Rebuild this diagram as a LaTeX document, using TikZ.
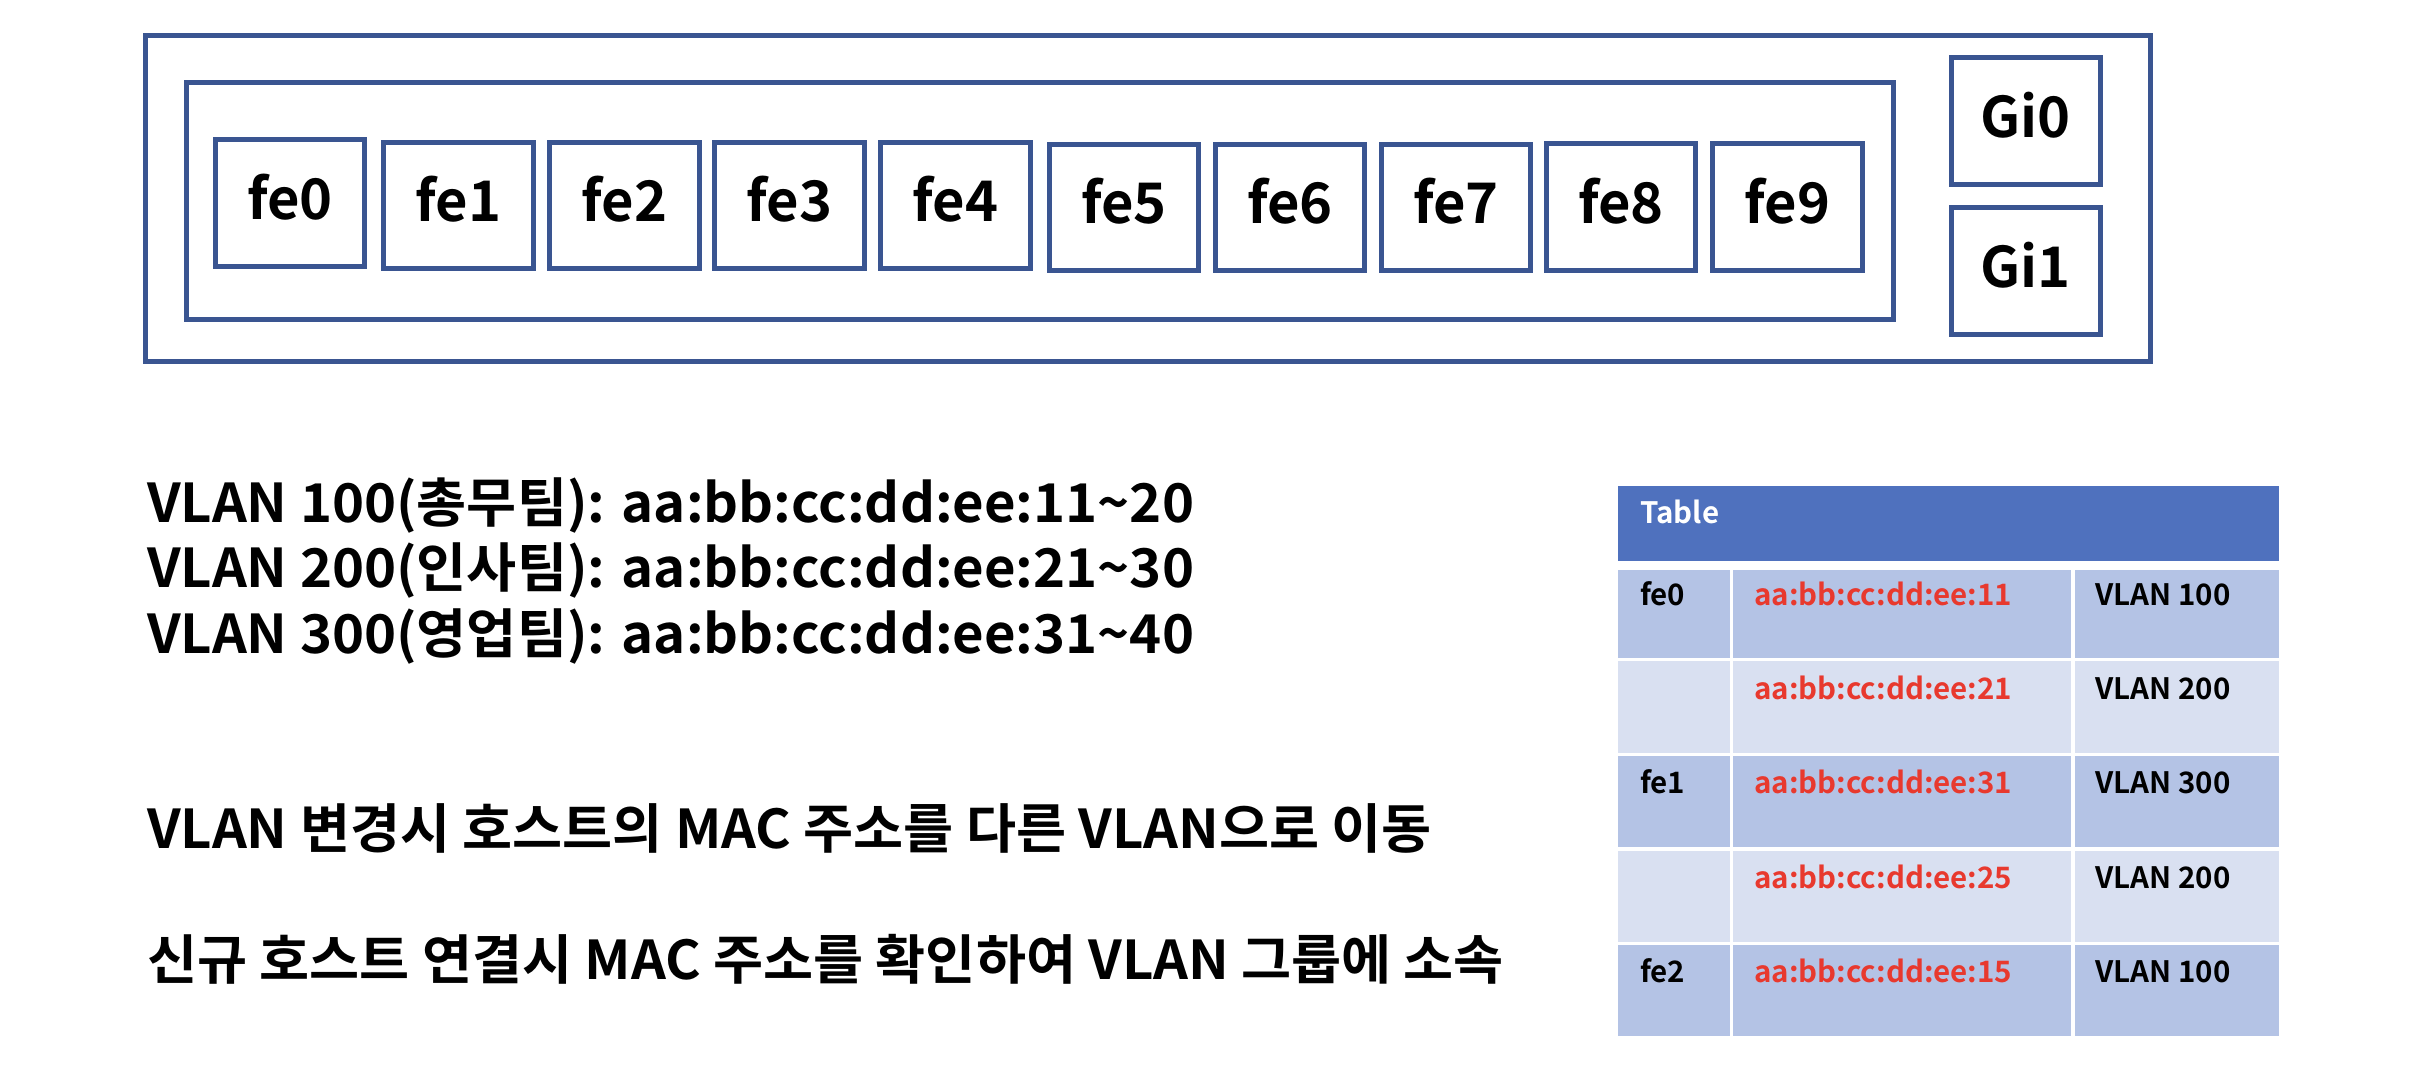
\documentclass[tikz,border=0pt]{standalone}
\usepackage{fontspec}
\setmainfont{Noto Sans CJK KR}[UprightFont=* Bold, BoldFont=* Bold]
\newfontfamily\widefont{Noto Sans CJK KR}[UprightFont=* Bold, BoldFont=* Bold, FakeStretch=1.017]
\definecolor{boxblue}{HTML}{3A5591}
\definecolor{hdrblue}{HTML}{4F71BE}
\definecolor{rowdark}{HTML}{B4C3E5}
\definecolor{rowlight}{HTML}{D9E0F1}
\definecolor{macred}{HTML}{E8392E}
\begin{document}
\begin{tikzpicture}[x=1pt,y=-1pt,
  frame/.style={draw=boxblue, line width=5pt},
  port/.style={draw=boxblue, line width=5pt, inner sep=0pt, minimum width=149.5pt, minimum height=126.5pt,
    font=\fontsize{56}{60}\selectfont, text height=42pt, text depth=9pt},
  gport/.style={port, minimum width=148.5pt, minimum height=127.5pt},
  big/.style={anchor=base west, inner sep=0pt, font=\widefont\fontsize{53.5}{60}\selectfont},
  celltxt/.style={anchor=base west, inner sep=0pt, font=\fontsize{29.5}{32}\selectfont},
]
\useasboundingbox (0,0) rectangle (2426,1078);
% switch frames
\draw[frame] (145,36) rectangle (2150,361);
\draw[frame] (186,83) rectangle (1893,319);
\node[port] (fe0) at (290,203) {fe0};
\node[port] (fe1) at (458.5,205.5) {fe1};
\node[port] (fe2) at (624.5,205.5) {fe2};
\node[port] (fe3) at (789.5,205.5) {fe3};
\node[port] (fe4) at (955.5,205.5) {fe4};
\node[port] (fe5) at (1124,207.5) {fe5};
\node[port] (fe6) at (1290,207.5) {fe6};
\node[port] (fe7) at (1456,207.5) {fe7};
\node[port] (fe8) at (1621,207) {fe8};
\node[port] (fe9) at (1787.5,207) {fe9};
\node[gport] (gi0) at (2025.75,121.25) {Gi0};
\node[gport] (gi1) at (2025.75,271) {Gi1};
% left texts
\node[big] (t1) at (147,522) {VLAN 100(총무팀): aa:bb:cc:dd:ee:11\textasciitilde 20};
\node[big] (t2) at (147,587) {VLAN 200(인사팀): aa:bb:cc:dd:ee:21\textasciitilde 30};
\node[big] (t3) at (147,653) {VLAN 300(영업팀): aa:bb:cc:dd:ee:31\textasciitilde 40};
\node[big] (t4) at (147,848) {VLAN 변경시 호스트의 MAC 주소를 다른 VLAN으로 이동};
\node[big] (t5) at (147,979) {신규 호스트 연결시 MAC 주소를 확인하여 VLAN 그룹에 소속};
% table
\fill[hdrblue] (1618,485.5) rectangle (2278.5,560.5);
\node[celltxt, text=white] (thdr) at (1640,523) {Table};
\foreach \top/\bot/\col [count=\i] in {569.5/658/rowdark, 661/752.5/rowlight, 756/847/rowdark, 850.5/942/rowlight, 945/1036/rowdark}{
  \fill[\col] (1618,\top) rectangle (1729.5,\bot);
  \fill[\col] (1733,\top) rectangle (2071,\bot);
  \fill[\col] (2074.5,\top) rectangle (2278.5,\bot);
}
\node[celltxt] (p1) at (1640,605) {fe0};
\node[celltxt, text=macred] (m1) at (1754,605) {aa:bb:cc:dd:ee:11};
\node[celltxt] (v1) at (2095.5,605) {VLAN 100};
\node[celltxt, text=macred] (m2) at (1754,699) {aa:bb:cc:dd:ee:21};
\node[celltxt] (v2) at (2095.5,699) {VLAN 200};
\node[celltxt] (p3) at (1640,793) {fe1};
\node[celltxt, text=macred] (m3) at (1754,793) {aa:bb:cc:dd:ee:31};
\node[celltxt] (v3) at (2095.5,793) {VLAN 300};
\node[celltxt, text=macred] (m4) at (1754,888) {aa:bb:cc:dd:ee:25};
\node[celltxt] (v4) at (2095.5,888) {VLAN 200};
\node[celltxt] (p5) at (1640,982) {fe2};
\node[celltxt, text=macred] (m5) at (1754,982) {aa:bb:cc:dd:ee:15};
\node[celltxt] (v5) at (2095.5,982) {VLAN 100};
\end{tikzpicture}
\end{document}
